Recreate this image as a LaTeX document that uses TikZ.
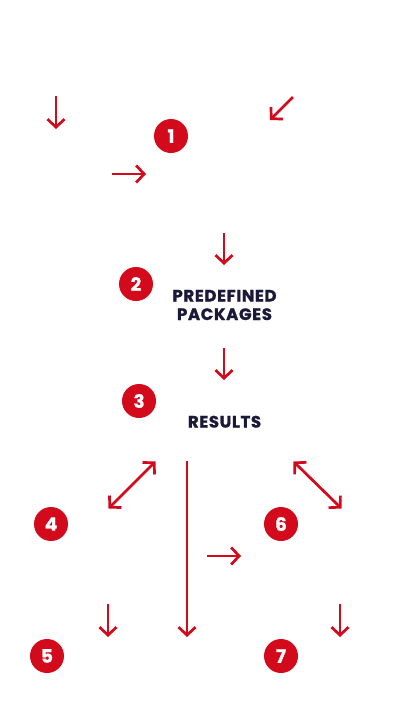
\documentclass[tikz,border=0pt]{standalone}
\usepackage{fontspec}
\setmainfont{Poppins}
\newfontfamily\lblfont[FakeBold=1.2,LetterSpace=4]{Poppins}
\newfontfamily\numfont[FakeBold=0.8]{Poppins}
\usetikzlibrary{arrows.meta}
\definecolor{brandred}{HTML}{D20A1C}
\definecolor{navy}{HTML}{1C1838}
\begin{document}
\begin{tikzpicture}[x=1pt,y=-1pt,
  num/.style={circle,fill=brandred,inner sep=0pt,minimum size=34pt,text=white,font=\numfont\fontsize{18.5}{18.5}\selectfont\bfseries},
  lbl/.style={text=navy,font=\lblfont\fontsize{16.5}{18.5}\selectfont\bfseries,align=center,inner sep=0pt,anchor=base},
  arr/.style={draw=brandred,line width=2.7pt,-{Straight Barb[length=8pt,width=17pt,line width=2.7pt]}},
  darr/.style={draw=brandred,line width=2.7pt,{Straight Barb[length=8pt,width=17pt,line width=2.7pt]}-{Straight Barb[length=8pt,width=17pt,line width=2.7pt]}}]
\useasboundingbox (0,0) rectangle (401,718);
\fill[white] (0,0) rectangle (401,718);
% numbered circles
\node[num] (n1) at (171,136) {1};
\node[num] (n2) at (136,284) {2};
\node[num] (n3) at (139,401) {3};
\node[num] (n4) at (51,524) {4};
\node[num] (n5) at (47,656) {5};
\node[num] (n6) at (281,524) {6};
\node[num] (n7) at (281,656) {7};
% labels
\node[lbl] (t2) at (224.5,320) {PREDEFINED\\PACKAGES};
\node[lbl] (t3) at (224.5,427.5) {RESULTS};
% arrow end points
\coordinate (a1s) at (56,96);   \coordinate (a1e) at (56,129);
\coordinate (a2s) at (112,174); \coordinate (a2e) at (146,174);
\coordinate (a3s) at (293,97);  \coordinate (a3e) at (270,120);
\coordinate (a4s) at (224,233); \coordinate (a4e) at (224,265);
\coordinate (a5s) at (224,348); \coordinate (a5e) at (224,380);
\coordinate (a6s) at (155.5,461.5); \coordinate (a6e) at (108.5,508.5);
\coordinate (a7s) at (187,461); \coordinate (a7e) at (187,637);
\coordinate (a8s) at (207,556); \coordinate (a8e) at (241,556);
\coordinate (a9s) at (293.5,461.5); \coordinate (a9e) at (341.5,508.5);
\coordinate (a10s) at (108,604); \coordinate (a10e) at (108,637);
\coordinate (a11s) at (340,604); \coordinate (a11e) at (340,637);
% arrows
\draw[arr] (a1s) -- (a1e);
\draw[arr] (a2s) -- (a2e);
\draw[arr] (a3s) -- (a3e);
\draw[arr] (a4s) -- (a4e);
\draw[arr] (a5s) -- (a5e);
\draw[darr] (a6s) -- (a6e);
\draw[arr] (a7s) -- (a7e);
\draw[arr] (a8s) -- (a8e);
\draw[darr] (a9s) -- (a9e);
\draw[arr] (a10s) -- (a10e);
\draw[arr] (a11s) -- (a11e);
\end{tikzpicture}
\end{document}
